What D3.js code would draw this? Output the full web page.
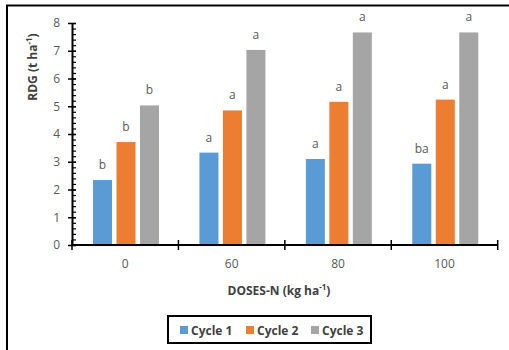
<!DOCTYPE html>
<html>
<head>
<meta charset="utf-8">
<script src="https://cdn.jsdelivr.net/npm/d3@7"></script>
<style>
  body { margin: 0; background: #fff; }
  svg text { font-family: "Open Sans", "Noto Sans", sans-serif; }
</style>
</head>
<body>
<div id="chart"></div>
<script>
// Data ------------------------------------------------------------------------
var doses = ["0", "60", "80", "100"];
var seriesNames = ["Cycle 1", "Cycle 2", "Cycle 3"];
var cycle1 = [2.34, 3.33, 3.10, 2.93];
var cycle2 = [3.71, 4.85, 5.16, 5.24];
var cycle3 = [5.03, 7.03, 7.66, 7.66];
var letters1 = ["b", "a", "a", "ba"];
var letters2 = ["b", "a", "a", "a"];
var letters3 = ["b", "a", "a", "a"];
var yTicks = [0, 1, 2, 3, 4, 5, 6, 7, 8];

var colors = ["#5B9BD5", "#ED7D31", "#A5A5A5"];
var values = [cycle1, cycle2, cycle3];
var letters = [letters1, letters2, letters3];

// Chart -----------------------------------------------------------------------
var width = 509, height = 350;
var plotLeft = 72, plotRight = 497.7, plotTop = 23, plotBottom = 245;

var svg = d3.select("#chart").append("svg")
  .attr("width", width)
  .attr("height", height);

// frame (top + left only)
svg.append("path")
  .attr("d", "M7,360 L7,5.5 L520,5.5")
  .attr("fill", "none")
  .attr("stroke", "#000")
  .attr("stroke-width", 2);

var x0 = d3.scaleBand().domain(doses).range([plotLeft, plotRight]).padding(0);
var x1 = d3.scaleBand().domain(seriesNames).range([21, 87]).paddingInner(0.19);
var y = d3.scaleLinear().domain([0, 8]).range([plotBottom, plotTop]);

var rows = [];
doses.forEach(function(d, i) {
  seriesNames.forEach(function(s, j) {
    rows.push({dose: d, series: s, value: values[j][i], letter: letters[j][i], color: colors[j]});
  });
});

svg.selectAll("rect.bar")
  .data(rows)
  .enter()
  .append("rect")
    .attr("class", "bar")
    .attr("x", function(d) { return x0(d.dose) + x1(d.series); })
    .attr("y", function(d) { return y(d.value); })
    .attr("width", x1.bandwidth())
    .attr("height", function(d) { return y(0) - y(d.value); })
    .attr("fill", function(d) { return d.color; });

svg.selectAll("text.letter")
  .data(rows)
  .enter()
  .append("text")
    .attr("class", "letter")
    .attr("x", function(d) { return x0(d.dose) + x1(d.series) + x1.bandwidth() / 2; })
    .attr("y", function(d) { return y(d.value) - 11; })
    .attr("text-anchor", "middle")
    .attr("font-size", "12px")
    .attr("fill", "#595959")
    .text(function(d) { return d.letter; });

// y axis: minor ticks inside
var minor = d3.range(0, 8.0001, 0.2);
svg.append("g")
  .attr("transform", "translate(" + plotLeft + ",0)")
  .call(d3.axisRight(y).tickValues(minor).tickSize(4).tickFormat(""))
  .call(function(g) { g.select(".domain").remove(); })
  .selectAll("line").attr("stroke", "#000").attr("stroke-width", 1.2);

// y axis: major ticks crossing
var yAxis = svg.append("g")
  .attr("transform", "translate(" + plotLeft + ",0)")
  .call(d3.axisLeft(y).tickValues(yTicks).tickSizeInner(4).tickSizeOuter(0).tickPadding(8));
yAxis.select(".domain").attr("stroke", "#000").attr("stroke-width", 2);
yAxis.selectAll(".tick line").attr("x2", 4).attr("x1", -4).attr("stroke", "#000").attr("stroke-width", 1.5);
yAxis.selectAll(".tick text")
  .attr("font-size", "12px")
  .attr("fill", "#595959")
  .style("font-family", "'Open Sans', sans-serif");

// x axis: ticks at band boundaries
var bounds = doses.map(function(d) { return x0(d); }).concat([plotRight]);
var xAxis = svg.append("g")
  .attr("transform", "translate(0," + plotBottom + ")");
xAxis.append("line")
  .attr("x1", plotLeft).attr("x2", plotRight)
  .attr("stroke", "#000").attr("stroke-width", 2);
xAxis.selectAll("line.tk")
  .data(bounds)
  .enter()
  .append("line")
    .attr("class", "tk")
    .attr("x1", function(d) { return d; })
    .attr("x2", function(d) { return d; })
    .attr("y1", -5).attr("y2", 5)
    .attr("stroke", "#000").attr("stroke-width", 1.5);
xAxis.selectAll("text")
  .data(doses)
  .enter()
  .append("text")
    .attr("x", function(d) { return x0(d) + x0.bandwidth() / 2; })
    .attr("y", 23)
    .attr("text-anchor", "middle")
    .attr("font-size", "12px")
    .attr("fill", "#595959")
    .text(function(d) { return d; });

// axis titles
var yTitle = svg.append("text")
  .attr("transform", "translate(37,67) rotate(-90)")
  .attr("text-anchor", "middle")
  .attr("font-size", "12px")
  .attr("font-weight", "bold")
  .attr("fill", "#404040");
yTitle.append("tspan").text("RDG (t ha");
yTitle.append("tspan").attr("font-size", "8px").attr("dy", -5).text("-1");
yTitle.append("tspan").attr("dy", 5).text(")");

var xTitle = svg.append("text")
  .attr("x", 279)
  .attr("y", 295)
  .attr("text-anchor", "middle")
  .attr("font-size", "12px")
  .attr("font-weight", "bold")
  .attr("fill", "#404040");
xTitle.append("tspan").text("DOSES-N (kg ha");
xTitle.append("tspan").attr("font-size", "8px").attr("dy", -5).text("-1");
xTitle.append("tspan").attr("dy", 5).text(")");

// legend
var legend = svg.append("g");
legend.append("rect")
  .attr("x", 168).attr("y", 316)
  .attr("width", 203).attr("height", 27)
  .attr("fill", "#fff")
  .attr("stroke", "#000")
  .attr("stroke-width", 2);
var legendX = [180, 246, 311];
var items = legend.selectAll("g.item")
  .data(seriesNames)
  .enter()
  .append("g")
    .attr("class", "item")
    .attr("transform", function(d, i) { return "translate(" + legendX[i] + ",326)"; });
items.append("rect")
  .attr("width", 8).attr("height", 8)
  .attr("fill", function(d, i) { return colors[i]; });
items.append("text")
  .attr("x", 11)
  .attr("y", 8.5)
  .attr("font-size", "12px")
  .attr("font-weight", "bold")
  .attr("fill", "#404040")
  .text(function(d) { return d; });
</script>
</body>
</html>
